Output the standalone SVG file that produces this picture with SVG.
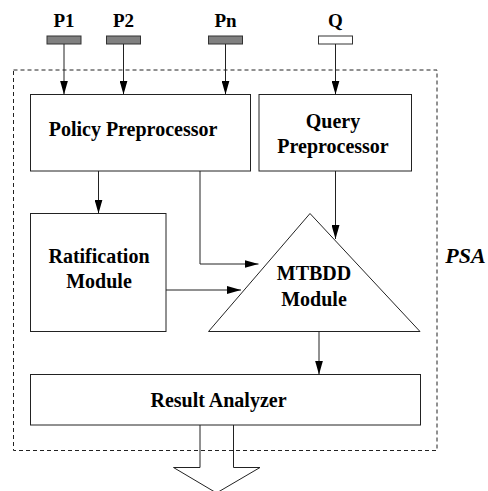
<svg xmlns="http://www.w3.org/2000/svg" width="488" height="491" viewBox="0 0 488 491">
<style>
.box{fill:#fff;stroke:#222;stroke-width:1}
.lbl{font-family:"Liberation Serif","Times New Roman",serif;font-weight:bold;font-size:20px;fill:#000;text-anchor:middle}
.edge{fill:none;stroke:#222;stroke-width:1}
</style>
<defs>
<marker id="ah" markerUnits="userSpaceOnUse" markerWidth="14" markerHeight="8" refX="14" refY="4" orient="auto">
<path d="M0,0 L14,4 L0,8 z" fill="#000"/>
</marker>
</defs>
<rect x="0" y="0" width="488" height="491" fill="#fff"/>
<g id="psa">
<rect x="13.5" y="70" width="423.5" height="380.5" fill="none" stroke="#222" stroke-width="1" stroke-dasharray="4,3"/>
<text x="465.5" y="263" font-family="Liberation Serif,serif" font-weight="bold" font-style="italic" font-size="22" text-anchor="middle">PSA</text>
</g>
<g id="p1">
<rect x="47" y="36" width="34" height="8" fill="#808080" stroke="#333" stroke-width="1"/>
<text class="lbl" x="64" y="27" style="font-size:19px">P1</text>
</g>
<g id="p2">
<rect x="106.5" y="36" width="34" height="8" fill="#808080" stroke="#333" stroke-width="1"/>
<text class="lbl" x="123.5" y="27" style="font-size:19px">P2</text>
</g>
<g id="pn">
<rect x="208.5" y="36" width="34" height="8" fill="#808080" stroke="#333" stroke-width="1"/>
<text class="lbl" x="225.5" y="27" style="font-size:19px">Pn</text>
</g>
<g id="q">
<rect x="318.5" y="36" width="34" height="8" fill="#fff" stroke="#333" stroke-width="1"/>
<text class="lbl" x="335.5" y="27" style="font-size:19px">Q</text>
</g>
<g id="policy">
<rect class="box" x="30.5" y="94.5" width="220" height="76.5"/>
<text class="lbl" x="133" y="136">Policy Preprocessor</text>
</g>
<g id="query">
<rect class="box" x="259" y="94.5" width="152.5" height="76.5"/>
<text class="lbl" x="333" y="128">Query</text>
<text class="lbl" x="333" y="153">Preprocessor</text>
</g>
<g id="ratification">
<rect class="box" x="30.5" y="213.5" width="135.5" height="118"/>
<text class="lbl" x="99" y="263">Ratification</text>
<text class="lbl" x="99" y="288">Module</text>
</g>
<g id="mtbdd">
<polygon class="box" points="310,213.5 208.5,331.5 420,331.5"/>
<text class="lbl" x="314" y="280">MTBDD</text>
<text class="lbl" x="314" y="306">Module</text>
</g>
<g id="result">
<rect class="box" x="30.5" y="374.5" width="390" height="50.5"/>
<text class="lbl" x="218.5" y="407">Result Analyzer</text>
</g>
<g id="connectors">
<line class="edge" x1="64" y1="44" x2="64" y2="94.5" marker-end="url(#ah)"/>
<line class="edge" x1="123.5" y1="44" x2="123.5" y2="94.5" marker-end="url(#ah)"/>
<line class="edge" x1="225.5" y1="44" x2="225.5" y2="94.5" marker-end="url(#ah)"/>
<line class="edge" x1="335.5" y1="44" x2="335.5" y2="94.5" marker-end="url(#ah)"/>
<line class="edge" x1="98.5" y1="171" x2="98.5" y2="213.5" marker-end="url(#ah)"/>
<polyline class="edge" points="200,171 200,264 258.5,264" marker-end="url(#ah)"/>
<line class="edge" x1="166" y1="290" x2="241" y2="290" marker-end="url(#ah)"/>
<line class="edge" x1="335.5" y1="171" x2="335.5" y2="239" marker-end="url(#ah)"/>
<line class="edge" x1="319" y1="331.5" x2="319" y2="374.5" marker-end="url(#ah)"/>
<polyline class="edge" points="200,425 200,467.5 173.5,467.5 216.5,493 260,467.5 233.5,467.5 233.5,425"/>
</g>
</svg>
